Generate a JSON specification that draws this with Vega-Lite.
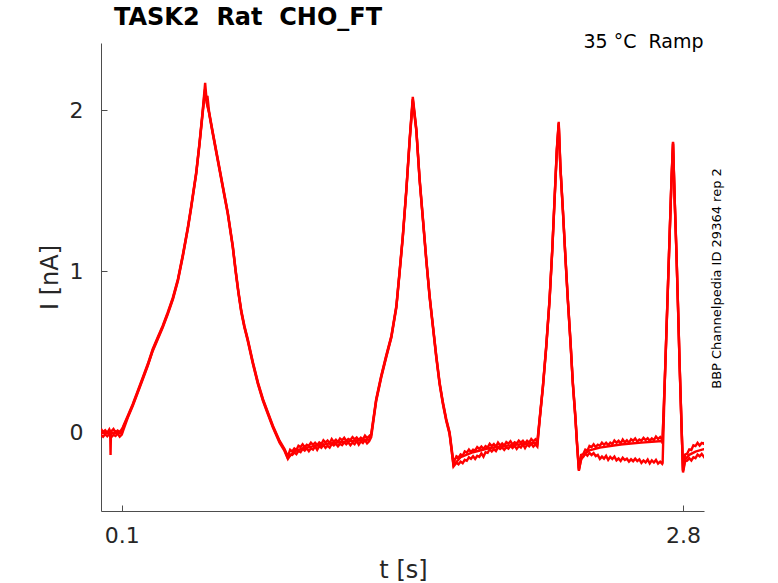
{
  "$schema": "https://vega.github.io/schema/vega-lite/v6.json",
  "autosize": "none",
  "width": 603,
  "height": 468,
  "padding": {"left": 101, "top": 43, "right": 74, "bottom": 72},
  "background": "white",
  "title": {
    "text": "TASK2\u00a0 Rat\u00a0 CHO_FT",
    "anchor": "start",
    "frame": "group",
    "dx": 13,
    "offset": 2,
    "font": "DejaVu Sans",
    "fontSize": 24,
    "fontWeight": "bold",
    "color": "black"
  },
  "data": {
    "values": [
      {"rep": "a", "t": 0, "i": 0.021}, {"rep": "a", "t": 0.01, "i": 0.001}, {"rep": "a", "t": 0.02, "i": 0.013}, {"rep": "a", "t": 0.03, "i": -0.003}, {"rep": "a", "t": 0.04, "i": 0.018}, {"rep": "a", "t": 0.044, "i": 0.006}, {"rep": "a", "t": 0.046, "i": -0.141}, {"rep": "a", "t": 0.048, "i": 0.002}, {"rep": "a", "t": 0.05, "i": 0.006}, {"rep": "a", "t": 0.06, "i": 0.02}, {"rep": "a", "t": 0.07, "i": -0.001}, {"rep": "a", "t": 0.08, "i": 0.011}, {"rep": "a", "t": 0.09, "i": 0.002}, {"rep": "a", "t": 0.1, "i": 0.019},
      {"rep": "a", "t": 0.105, "i": 0.031}, {"rep": "a", "t": 0.129, "i": 0.103}, {"rep": "a", "t": 0.153, "i": 0.176}, {"rep": "a", "t": 0.177, "i": 0.258}, {"rep": "a", "t": 0.201, "i": 0.341}, {"rep": "a", "t": 0.225, "i": 0.424}, {"rep": "a", "t": 0.249, "i": 0.517}, {"rep": "a", "t": 0.273, "i": 0.59}, {"rep": "a", "t": 0.297, "i": 0.662}, {"rep": "a", "t": 0.321, "i": 0.745}, {"rep": "a", "t": 0.346, "i": 0.838}, {"rep": "a", "t": 0.37, "i": 0.952}, {"rep": "a", "t": 0.394, "i": 1.106}, {"rep": "a", "t": 0.418, "i": 1.276}, {"rep": "a", "t": 0.434, "i": 1.406}, {"rep": "a", "t": 0.458, "i": 1.615}, {"rep": "a", "t": 0.474, "i": 1.801}, {"rep": "a", "t": 0.49, "i": 2.008}, {"rep": "a", "t": 0.501, "i": 2.171}, {"rep": "a", "t": 0.509, "i": 2.049}, {"rep": "a", "t": 0.522, "i": 1.977}, {"rep": "a", "t": 0.538, "i": 1.863}, {"rep": "a", "t": 0.562, "i": 1.697}, {"rep": "a", "t": 0.586, "i": 1.531}, {"rep": "a", "t": 0.61, "i": 1.366}, {"rep": "a", "t": 0.634, "i": 1.159}, {"rep": "a", "t": 0.648, "i": 1.006}, {"rep": "a", "t": 0.661, "i": 0.876}, {"rep": "a", "t": 0.675, "i": 0.756}, {"rep": "a", "t": 0.69, "i": 0.661}, {"rep": "a", "t": 0.706, "i": 0.579}, {"rep": "a", "t": 0.731, "i": 0.435}, {"rep": "a", "t": 0.755, "i": 0.31}, {"rep": "a", "t": 0.779, "i": 0.207}, {"rep": "a", "t": 0.803, "i": 0.124}, {"rep": "a", "t": 0.827, "i": 0.041}, {"rep": "a", "t": 0.859, "i": -0.052}, {"rep": "a", "t": 0.883, "i": -0.104}, {"rep": "a", "t": 0.899, "i": -0.15},
      {"rep": "a", "t": 0.91, "i": -0.109}, {"rep": "a", "t": 0.92, "i": -0.119}, {"rep": "a", "t": 0.93, "i": -0.1}, {"rep": "a", "t": 0.94, "i": -0.11}, {"rep": "a", "t": 0.95, "i": -0.084}, {"rep": "a", "t": 0.96, "i": -0.092}, {"rep": "a", "t": 0.97, "i": -0.075}, {"rep": "a", "t": 0.98, "i": -0.093}, {"rep": "a", "t": 0.99, "i": -0.078}, {"rep": "a", "t": 1.0, "i": -0.084}, {"rep": "a", "t": 1.01, "i": -0.065}, {"rep": "a", "t": 1.02, "i": -0.078}, {"rep": "a", "t": 1.03, "i": -0.065}, {"rep": "a", "t": 1.04, "i": -0.08}, {"rep": "a", "t": 1.05, "i": -0.063}, {"rep": "a", "t": 1.06, "i": -0.073}, {"rep": "a", "t": 1.07, "i": -0.05}, {"rep": "a", "t": 1.08, "i": -0.064}, {"rep": "a", "t": 1.09, "i": -0.051}, {"rep": "a", "t": 1.1, "i": -0.068}, {"rep": "a", "t": 1.11, "i": -0.042}, {"rep": "a", "t": 1.12, "i": -0.06}, {"rep": "a", "t": 1.13, "i": -0.046}, {"rep": "a", "t": 1.14, "i": -0.061}, {"rep": "a", "t": 1.15, "i": -0.039}, {"rep": "a", "t": 1.16, "i": -0.049}, {"rep": "a", "t": 1.17, "i": -0.034}, {"rep": "a", "t": 1.18, "i": -0.054}, {"rep": "a", "t": 1.19, "i": -0.041}, {"rep": "a", "t": 1.2, "i": -0.048}, {"rep": "a", "t": 1.21, "i": -0.03}, {"rep": "a", "t": 1.22, "i": -0.044}, {"rep": "a", "t": 1.23, "i": -0.032}, {"rep": "a", "t": 1.24, "i": -0.048}, {"rep": "a", "t": 1.25, "i": -0.033}, {"rep": "a", "t": 1.26, "i": -0.044}, {"rep": "a", "t": 1.27, "i": -0.021}, {"rep": "a", "t": 1.28, "i": -0.036}, {"rep": "a", "t": 1.29, "i": -0.024},
      {"rep": "a", "t": 1.3, "i": -0.011}, {"rep": "a", "t": 1.324, "i": 0.207}, {"rep": "a", "t": 1.348, "i": 0.351}, {"rep": "a", "t": 1.372, "i": 0.476}, {"rep": "a", "t": 1.397, "i": 0.6}, {"rep": "a", "t": 1.421, "i": 0.786}, {"rep": "a", "t": 1.436, "i": 0.995}, {"rep": "a", "t": 1.452, "i": 1.221}, {"rep": "a", "t": 1.469, "i": 1.511}, {"rep": "a", "t": 1.485, "i": 1.822}, {"rep": "a", "t": 1.5, "i": 2.084}, {"rep": "a", "t": 1.517, "i": 1.884}, {"rep": "a", "t": 1.533, "i": 1.573}, {"rep": "a", "t": 1.549, "i": 1.325}, {"rep": "a", "t": 1.565, "i": 1.076}, {"rep": "a", "t": 1.581, "i": 0.848}, {"rep": "a", "t": 1.597, "i": 0.662}, {"rep": "a", "t": 1.613, "i": 0.476}, {"rep": "a", "t": 1.629, "i": 0.31}, {"rep": "a", "t": 1.645, "i": 0.186}, {"rep": "a", "t": 1.661, "i": 0.082}, {"rep": "a", "t": 1.677, "i": 0.0}, {"rep": "a", "t": 1.696, "i": -0.19},
      {"rep": "a", "t": 1.71, "i": -0.149}, {"rep": "a", "t": 1.72, "i": -0.157}, {"rep": "a", "t": 1.73, "i": -0.137}, {"rep": "a", "t": 1.74, "i": -0.146}, {"rep": "a", "t": 1.75, "i": -0.119}, {"rep": "a", "t": 1.76, "i": -0.126}, {"rep": "a", "t": 1.77, "i": -0.107}, {"rep": "a", "t": 1.78, "i": -0.124}, {"rep": "a", "t": 1.79, "i": -0.108}, {"rep": "a", "t": 1.8, "i": -0.113}, {"rep": "a", "t": 1.81, "i": -0.092}, {"rep": "a", "t": 1.82, "i": -0.103}, {"rep": "a", "t": 1.83, "i": -0.089}, {"rep": "a", "t": 1.84, "i": -0.103}, {"rep": "a", "t": 1.85, "i": -0.086}, {"rep": "a", "t": 1.86, "i": -0.095}, {"rep": "a", "t": 1.87, "i": -0.072}, {"rep": "a", "t": 1.88, "i": -0.086}, {"rep": "a", "t": 1.89, "i": -0.073}, {"rep": "a", "t": 1.9, "i": -0.09}, {"rep": "a", "t": 1.91, "i": -0.064}, {"rep": "a", "t": 1.92, "i": -0.082}, {"rep": "a", "t": 1.93, "i": -0.069}, {"rep": "a", "t": 1.94, "i": -0.083}, {"rep": "a", "t": 1.95, "i": -0.061}, {"rep": "a", "t": 1.96, "i": -0.071}, {"rep": "a", "t": 1.97, "i": -0.056}, {"rep": "a", "t": 1.98, "i": -0.076}, {"rep": "a", "t": 1.99, "i": -0.062}, {"rep": "a", "t": 2.0, "i": -0.07}, {"rep": "a", "t": 2.01, "i": -0.052}, {"rep": "a", "t": 2.02, "i": -0.065}, {"rep": "a", "t": 2.03, "i": -0.053}, {"rep": "a", "t": 2.04, "i": -0.069}, {"rep": "a", "t": 2.05, "i": -0.053}, {"rep": "a", "t": 2.06, "i": -0.064}, {"rep": "a", "t": 2.07, "i": -0.042}, {"rep": "a", "t": 2.08, "i": -0.056}, {"rep": "a", "t": 2.09, "i": -0.044},
      {"rep": "a", "t": 2.099, "i": -0.06}, {"rep": "a", "t": 2.11, "i": 0.082}, {"rep": "a", "t": 2.126, "i": 0.289}, {"rep": "a", "t": 2.142, "i": 0.538}, {"rep": "a", "t": 2.158, "i": 0.828}, {"rep": "a", "t": 2.171, "i": 1.138}, {"rep": "a", "t": 2.182, "i": 1.449}, {"rep": "a", "t": 2.193, "i": 1.759}, {"rep": "a", "t": 2.202, "i": 1.929}, {"rep": "a", "t": 2.21, "i": 1.656}, {"rep": "a", "t": 2.222, "i": 1.387}, {"rep": "a", "t": 2.235, "i": 1.076}, {"rep": "a", "t": 2.246, "i": 0.828}, {"rep": "a", "t": 2.259, "i": 0.56}, {"rep": "a", "t": 2.27, "i": 0.31}, {"rep": "a", "t": 2.282, "i": 0.103}, {"rep": "a", "t": 2.29, "i": -0.062}, {"rep": "a", "t": 2.299, "i": -0.225},
      {"rep": "a", "t": 2.31, "i": -0.14}, {"rep": "a", "t": 2.32, "i": -0.135}, {"rep": "a", "t": 2.33, "i": -0.108}, {"rep": "a", "t": 2.34, "i": -0.114}, {"rep": "a", "t": 2.35, "i": -0.085}, {"rep": "a", "t": 2.36, "i": -0.092}, {"rep": "a", "t": 2.37, "i": -0.074}, {"rep": "a", "t": 2.38, "i": -0.092}, {"rep": "a", "t": 2.39, "i": -0.077}, {"rep": "a", "t": 2.4, "i": -0.084}, {"rep": "a", "t": 2.41, "i": -0.065}, {"rep": "a", "t": 2.42, "i": -0.078}, {"rep": "a", "t": 2.43, "i": -0.065}, {"rep": "a", "t": 2.44, "i": -0.08}, {"rep": "a", "t": 2.45, "i": -0.064}, {"rep": "a", "t": 2.46, "i": -0.074}, {"rep": "a", "t": 2.47, "i": -0.051}, {"rep": "a", "t": 2.48, "i": -0.065}, {"rep": "a", "t": 2.49, "i": -0.053}, {"rep": "a", "t": 2.5, "i": -0.07}, {"rep": "a", "t": 2.51, "i": -0.045}, {"rep": "a", "t": 2.52, "i": -0.063}, {"rep": "a", "t": 2.53, "i": -0.05}, {"rep": "a", "t": 2.54, "i": -0.065}, {"rep": "a", "t": 2.55, "i": -0.043}, {"rep": "a", "t": 2.56, "i": -0.053}, {"rep": "a", "t": 2.57, "i": -0.038}, {"rep": "a", "t": 2.58, "i": -0.058}, {"rep": "a", "t": 2.59, "i": -0.045}, {"rep": "a", "t": 2.6, "i": -0.053}, {"rep": "a", "t": 2.61, "i": -0.035}, {"rep": "a", "t": 2.62, "i": -0.049}, {"rep": "a", "t": 2.63, "i": -0.037}, {"rep": "a", "t": 2.64, "i": -0.053}, {"rep": "a", "t": 2.65, "i": -0.038}, {"rep": "a", "t": 2.66, "i": -0.049}, {"rep": "a", "t": 2.67, "i": -0.027}, {"rep": "a", "t": 2.68, "i": -0.042}, {"rep": "a", "t": 2.69, "i": -0.03}, {"rep": "a", "t": 2.7, "i": -0.048},
      {"rep": "a", "t": 2.701, "i": -0.06}, {"rep": "a", "t": 2.712, "i": 0.31}, {"rep": "a", "t": 2.72, "i": 0.621}, {"rep": "a", "t": 2.728, "i": 0.931}, {"rep": "a", "t": 2.736, "i": 1.242}, {"rep": "a", "t": 2.744, "i": 1.553}, {"rep": "a", "t": 2.752, "i": 1.805}, {"rep": "a", "t": 2.76, "i": 1.449}, {"rep": "a", "t": 2.768, "i": 1.138}, {"rep": "a", "t": 2.776, "i": 0.786}, {"rep": "a", "t": 2.784, "i": 0.413}, {"rep": "a", "t": 2.792, "i": 0.083}, {"rep": "a", "t": 2.8, "i": -0.235},
      {"rep": "a", "t": 2.81, "i": -0.138}, {"rep": "a", "t": 2.82, "i": -0.133}, {"rep": "a", "t": 2.83, "i": -0.106}, {"rep": "a", "t": 2.84, "i": -0.11}, {"rep": "a", "t": 2.85, "i": -0.081}, {"rep": "a", "t": 2.86, "i": -0.086}, {"rep": "a", "t": 2.87, "i": -0.066}, {"rep": "a", "t": 2.88, "i": -0.082}, {"rep": "a", "t": 2.89, "i": -0.066}, {"rep": "a", "t": 2.9, "i": -0.072}, {"rep": "a", "t": 2.901, "i": -0.06},

      {"rep": "b", "t": 0, "i": -0.016}, {"rep": "b", "t": 0.01, "i": -0.028}, {"rep": "b", "t": 0.02, "i": -0.012}, {"rep": "b", "t": 0.03, "i": -0.025}, {"rep": "b", "t": 0.04, "i": -0.01}, {"rep": "b", "t": 0.05, "i": -0.03}, {"rep": "b", "t": 0.06, "i": -0.015}, {"rep": "b", "t": 0.07, "i": -0.023}, {"rep": "b", "t": 0.08, "i": -0.008}, {"rep": "b", "t": 0.09, "i": -0.027}, {"rep": "b", "t": 0.1, "i": -0.014},
      {"rep": "b", "t": 0.107, "i": 0.012}, {"rep": "b", "t": 0.129, "i": 0.091}, {"rep": "b", "t": 0.153, "i": 0.164}, {"rep": "b", "t": 0.177, "i": 0.246}, {"rep": "b", "t": 0.201, "i": 0.329}, {"rep": "b", "t": 0.225, "i": 0.412}, {"rep": "b", "t": 0.249, "i": 0.505}, {"rep": "b", "t": 0.273, "i": 0.578}, {"rep": "b", "t": 0.297, "i": 0.65}, {"rep": "b", "t": 0.321, "i": 0.733}, {"rep": "b", "t": 0.346, "i": 0.826}, {"rep": "b", "t": 0.37, "i": 0.94}, {"rep": "b", "t": 0.394, "i": 1.094}, {"rep": "b", "t": 0.418, "i": 1.264}, {"rep": "b", "t": 0.434, "i": 1.394}, {"rep": "b", "t": 0.458, "i": 1.603}, {"rep": "b", "t": 0.474, "i": 1.789}, {"rep": "b", "t": 0.49, "i": 1.99}, {"rep": "b", "t": 0.499, "i": 2.1}, {"rep": "b", "t": 0.505, "i": 2.06}, {"rep": "b", "t": 0.512, "i": 2.09}, {"rep": "b", "t": 0.522, "i": 1.965}, {"rep": "b", "t": 0.538, "i": 1.851}, {"rep": "b", "t": 0.562, "i": 1.685}, {"rep": "b", "t": 0.586, "i": 1.519}, {"rep": "b", "t": 0.61, "i": 1.354}, {"rep": "b", "t": 0.634, "i": 1.147}, {"rep": "b", "t": 0.648, "i": 0.994}, {"rep": "b", "t": 0.661, "i": 0.864}, {"rep": "b", "t": 0.675, "i": 0.744}, {"rep": "b", "t": 0.69, "i": 0.649}, {"rep": "b", "t": 0.706, "i": 0.567}, {"rep": "b", "t": 0.731, "i": 0.423}, {"rep": "b", "t": 0.755, "i": 0.298}, {"rep": "b", "t": 0.779, "i": 0.195}, {"rep": "b", "t": 0.803, "i": 0.112}, {"rep": "b", "t": 0.827, "i": 0.029}, {"rep": "b", "t": 0.859, "i": -0.064}, {"rep": "b", "t": 0.883, "i": -0.116}, {"rep": "b", "t": 0.899, "i": -0.165},
      {"rep": "b", "t": 0.91, "i": -0.139}, {"rep": "b", "t": 0.92, "i": -0.141}, {"rep": "b", "t": 0.93, "i": -0.125}, {"rep": "b", "t": 0.94, "i": -0.136}, {"rep": "b", "t": 0.95, "i": -0.116}, {"rep": "b", "t": 0.96, "i": -0.123}, {"rep": "b", "t": 0.97, "i": -0.103}, {"rep": "b", "t": 0.98, "i": -0.114}, {"rep": "b", "t": 0.99, "i": -0.099}, {"rep": "b", "t": 1.0, "i": -0.117}, {"rep": "b", "t": 1.01, "i": -0.099}, {"rep": "b", "t": 1.02, "i": -0.108}, {"rep": "b", "t": 1.03, "i": -0.087}, {"rep": "b", "t": 1.04, "i": -0.109}, {"rep": "b", "t": 1.05, "i": -0.086}, {"rep": "b", "t": 1.06, "i": -0.096}, {"rep": "b", "t": 1.07, "i": -0.078}, {"rep": "b", "t": 1.08, "i": -0.097}, {"rep": "b", "t": 1.09, "i": -0.083}, {"rep": "b", "t": 1.1, "i": -0.095}, {"rep": "b", "t": 1.11, "i": -0.072}, {"rep": "b", "t": 1.12, "i": -0.082}, {"rep": "b", "t": 1.13, "i": -0.071}, {"rep": "b", "t": 1.14, "i": -0.087}, {"rep": "b", "t": 1.15, "i": -0.071}, {"rep": "b", "t": 1.16, "i": -0.08}, {"rep": "b", "t": 1.17, "i": -0.062}, {"rep": "b", "t": 1.18, "i": -0.075}, {"rep": "b", "t": 1.19, "i": -0.062}, {"rep": "b", "t": 1.2, "i": -0.081}, {"rep": "b", "t": 1.21, "i": -0.064}, {"rep": "b", "t": 1.22, "i": -0.074}, {"rep": "b", "t": 1.23, "i": -0.054}, {"rep": "b", "t": 1.24, "i": -0.077}, {"rep": "b", "t": 1.25, "i": -0.056}, {"rep": "b", "t": 1.26, "i": -0.067}, {"rep": "b", "t": 1.27, "i": -0.049}, {"rep": "b", "t": 1.28, "i": -0.069}, {"rep": "b", "t": 1.29, "i": -0.056},
      {"rep": "b", "t": 1.3, "i": -0.03}, {"rep": "b", "t": 1.324, "i": 0.195}, {"rep": "b", "t": 1.348, "i": 0.339}, {"rep": "b", "t": 1.372, "i": 0.464}, {"rep": "b", "t": 1.397, "i": 0.588}, {"rep": "b", "t": 1.421, "i": 0.774}, {"rep": "b", "t": 1.436, "i": 0.983}, {"rep": "b", "t": 1.452, "i": 1.209}, {"rep": "b", "t": 1.469, "i": 1.499}, {"rep": "b", "t": 1.485, "i": 1.81}, {"rep": "b", "t": 1.5, "i": 2.06}, {"rep": "b", "t": 1.517, "i": 1.872}, {"rep": "b", "t": 1.533, "i": 1.561}, {"rep": "b", "t": 1.549, "i": 1.313}, {"rep": "b", "t": 1.565, "i": 1.064}, {"rep": "b", "t": 1.581, "i": 0.836}, {"rep": "b", "t": 1.597, "i": 0.65}, {"rep": "b", "t": 1.613, "i": 0.464}, {"rep": "b", "t": 1.629, "i": 0.298}, {"rep": "b", "t": 1.645, "i": 0.174}, {"rep": "b", "t": 1.661, "i": 0.07}, {"rep": "b", "t": 1.677, "i": -0.012}, {"rep": "b", "t": 1.696, "i": -0.212},
      {"rep": "b", "t": 1.71, "i": -0.189}, {"rep": "b", "t": 1.72, "i": -0.199}, {"rep": "b", "t": 1.73, "i": -0.182}, {"rep": "b", "t": 1.74, "i": -0.192}, {"rep": "b", "t": 1.75, "i": -0.171}, {"rep": "b", "t": 1.76, "i": -0.177}, {"rep": "b", "t": 1.77, "i": -0.155}, {"rep": "b", "t": 1.78, "i": -0.165}, {"rep": "b", "t": 1.79, "i": -0.149}, {"rep": "b", "t": 1.8, "i": -0.166}, {"rep": "b", "t": 1.81, "i": -0.146}, {"rep": "b", "t": 1.82, "i": -0.153}, {"rep": "b", "t": 1.83, "i": -0.131}, {"rep": "b", "t": 1.84, "i": -0.152}, {"rep": "b", "t": 1.85, "i": -0.124}, {"rep": "b", "t": 1.86, "i": -0.128}, {"rep": "b", "t": 1.87, "i": -0.105}, {"rep": "b", "t": 1.88, "i": -0.119}, {"rep": "b", "t": 1.89, "i": -0.105}, {"rep": "b", "t": 1.9, "i": -0.117}, {"rep": "b", "t": 1.91, "i": -0.094}, {"rep": "b", "t": 1.92, "i": -0.104}, {"rep": "b", "t": 1.93, "i": -0.094}, {"rep": "b", "t": 1.94, "i": -0.109}, {"rep": "b", "t": 1.95, "i": -0.093}, {"rep": "b", "t": 1.96, "i": -0.102}, {"rep": "b", "t": 1.97, "i": -0.084}, {"rep": "b", "t": 1.98, "i": -0.097}, {"rep": "b", "t": 1.99, "i": -0.083}, {"rep": "b", "t": 2.0, "i": -0.103}, {"rep": "b", "t": 2.01, "i": -0.086}, {"rep": "b", "t": 2.02, "i": -0.095}, {"rep": "b", "t": 2.03, "i": -0.075}, {"rep": "b", "t": 2.04, "i": -0.098}, {"rep": "b", "t": 2.05, "i": -0.076}, {"rep": "b", "t": 2.06, "i": -0.087}, {"rep": "b", "t": 2.07, "i": -0.07}, {"rep": "b", "t": 2.08, "i": -0.089}, {"rep": "b", "t": 2.09, "i": -0.076},
      {"rep": "b", "t": 2.099, "i": -0.089}, {"rep": "b", "t": 2.11, "i": 0.07}, {"rep": "b", "t": 2.126, "i": 0.277}, {"rep": "b", "t": 2.142, "i": 0.526}, {"rep": "b", "t": 2.158, "i": 0.816}, {"rep": "b", "t": 2.171, "i": 1.126}, {"rep": "b", "t": 2.182, "i": 1.437}, {"rep": "b", "t": 2.193, "i": 1.747}, {"rep": "b", "t": 2.202, "i": 1.91}, {"rep": "b", "t": 2.21, "i": 1.644}, {"rep": "b", "t": 2.222, "i": 1.375}, {"rep": "b", "t": 2.235, "i": 1.064}, {"rep": "b", "t": 2.246, "i": 0.816}, {"rep": "b", "t": 2.259, "i": 0.548}, {"rep": "b", "t": 2.27, "i": 0.298}, {"rep": "b", "t": 2.282, "i": 0.091}, {"rep": "b", "t": 2.29, "i": -0.074}, {"rep": "b", "t": 2.299, "i": -0.24},
      {"rep": "b", "t": 2.31, "i": -0.16}, {"rep": "b", "t": 2.32, "i": -0.152}, {"rep": "b", "t": 2.33, "i": -0.133}, {"rep": "b", "t": 2.34, "i": -0.145}, {"rep": "b", "t": 2.35, "i": -0.128}, {"rep": "b", "t": 2.36, "i": -0.141}, {"rep": "b", "t": 2.37, "i": -0.129}, {"rep": "b", "t": 2.38, "i": -0.148}, {"rep": "b", "t": 2.39, "i": -0.141}, {"rep": "b", "t": 2.4, "i": -0.165}, {"rep": "b", "t": 2.41, "i": -0.151}, {"rep": "b", "t": 2.42, "i": -0.164}, {"rep": "b", "t": 2.43, "i": -0.146}, {"rep": "b", "t": 2.44, "i": -0.172}, {"rep": "b", "t": 2.45, "i": -0.153}, {"rep": "b", "t": 2.46, "i": -0.166}, {"rep": "b", "t": 2.47, "i": -0.151}, {"rep": "b", "t": 2.48, "i": -0.174}, {"rep": "b", "t": 2.49, "i": -0.163}, {"rep": "b", "t": 2.5, "i": -0.178}, {"rep": "b", "t": 2.51, "i": -0.158}, {"rep": "b", "t": 2.52, "i": -0.172}, {"rep": "b", "t": 2.53, "i": -0.164}, {"rep": "b", "t": 2.54, "i": -0.182}, {"rep": "b", "t": 2.55, "i": -0.168}, {"rep": "b", "t": 2.56, "i": -0.18}, {"rep": "b", "t": 2.57, "i": -0.164}, {"rep": "b", "t": 2.58, "i": -0.179}, {"rep": "b", "t": 2.59, "i": -0.168}, {"rep": "b", "t": 2.6, "i": -0.19}, {"rep": "b", "t": 2.61, "i": -0.175}, {"rep": "b", "t": 2.62, "i": -0.187}, {"rep": "b", "t": 2.63, "i": -0.169}, {"rep": "b", "t": 2.64, "i": -0.194}, {"rep": "b", "t": 2.65, "i": -0.175}, {"rep": "b", "t": 2.66, "i": -0.188}, {"rep": "b", "t": 2.67, "i": -0.172}, {"rep": "b", "t": 2.68, "i": -0.194}, {"rep": "b", "t": 2.69, "i": -0.182}, {"rep": "b", "t": 2.7, "i": -0.196},
      {"rep": "b", "t": 2.702, "i": -0.19}, {"rep": "b", "t": 2.712, "i": 0.298}, {"rep": "b", "t": 2.72, "i": 0.609}, {"rep": "b", "t": 2.728, "i": 0.919}, {"rep": "b", "t": 2.736, "i": 1.23}, {"rep": "b", "t": 2.744, "i": 1.541}, {"rep": "b", "t": 2.752, "i": 1.79}, {"rep": "b", "t": 2.76, "i": 1.437}, {"rep": "b", "t": 2.768, "i": 1.126}, {"rep": "b", "t": 2.776, "i": 0.774}, {"rep": "b", "t": 2.784, "i": 0.401}, {"rep": "b", "t": 2.792, "i": 0.071}, {"rep": "b", "t": 2.8, "i": -0.25},
      {"rep": "b", "t": 2.81, "i": -0.18}, {"rep": "b", "t": 2.82, "i": -0.177}, {"rep": "b", "t": 2.83, "i": -0.161}, {"rep": "b", "t": 2.84, "i": -0.175}, {"rep": "b", "t": 2.85, "i": -0.155}, {"rep": "b", "t": 2.86, "i": -0.161}, {"rep": "b", "t": 2.87, "i": -0.139}, {"rep": "b", "t": 2.88, "i": -0.149}, {"rep": "b", "t": 2.89, "i": -0.134}, {"rep": "b", "t": 2.9, "i": -0.152}, {"rep": "b", "t": 2.901, "i": -0.145},

      {"rep": "c", "t": 0, "i": -0.005}, {"rep": "c", "t": 0.05, "i": -0.002}, {"rep": "c", "t": 0.1, "i": -0.006},
      {"rep": "c", "t": 0.105, "i": 0.025}, {"rep": "c", "t": 0.129, "i": 0.097}, {"rep": "c", "t": 0.153, "i": 0.17}, {"rep": "c", "t": 0.177, "i": 0.252}, {"rep": "c", "t": 0.201, "i": 0.335}, {"rep": "c", "t": 0.225, "i": 0.418}, {"rep": "c", "t": 0.249, "i": 0.511}, {"rep": "c", "t": 0.273, "i": 0.584}, {"rep": "c", "t": 0.297, "i": 0.656}, {"rep": "c", "t": 0.321, "i": 0.739}, {"rep": "c", "t": 0.346, "i": 0.832}, {"rep": "c", "t": 0.37, "i": 0.946}, {"rep": "c", "t": 0.394, "i": 1.1}, {"rep": "c", "t": 0.418, "i": 1.27}, {"rep": "c", "t": 0.434, "i": 1.4}, {"rep": "c", "t": 0.458, "i": 1.609}, {"rep": "c", "t": 0.474, "i": 1.795}, {"rep": "c", "t": 0.49, "i": 2.002}, {"rep": "c", "t": 0.5, "i": 2.13}, {"rep": "c", "t": 0.509, "i": 2.043}, {"rep": "c", "t": 0.522, "i": 1.971}, {"rep": "c", "t": 0.538, "i": 1.857}, {"rep": "c", "t": 0.562, "i": 1.691}, {"rep": "c", "t": 0.586, "i": 1.525}, {"rep": "c", "t": 0.61, "i": 1.36}, {"rep": "c", "t": 0.634, "i": 1.153}, {"rep": "c", "t": 0.648, "i": 1.0}, {"rep": "c", "t": 0.661, "i": 0.87}, {"rep": "c", "t": 0.675, "i": 0.75}, {"rep": "c", "t": 0.69, "i": 0.655}, {"rep": "c", "t": 0.706, "i": 0.573}, {"rep": "c", "t": 0.731, "i": 0.429}, {"rep": "c", "t": 0.755, "i": 0.304}, {"rep": "c", "t": 0.779, "i": 0.201}, {"rep": "c", "t": 0.803, "i": 0.118}, {"rep": "c", "t": 0.827, "i": 0.035}, {"rep": "c", "t": 0.859, "i": -0.058}, {"rep": "c", "t": 0.883, "i": -0.11}, {"rep": "c", "t": 0.899, "i": -0.161},
      {"rep": "c", "t": 0.93, "i": -0.118}, {"rep": "c", "t": 0.97, "i": -0.1}, {"rep": "c", "t": 1.05, "i": -0.08}, {"rep": "c", "t": 1.13, "i": -0.064}, {"rep": "c", "t": 1.2, "i": -0.055}, {"rep": "c", "t": 1.29, "i": -0.045},
      {"rep": "c", "t": 1.3, "i": -0.017}, {"rep": "c", "t": 1.324, "i": 0.201}, {"rep": "c", "t": 1.348, "i": 0.345}, {"rep": "c", "t": 1.372, "i": 0.47}, {"rep": "c", "t": 1.397, "i": 0.594}, {"rep": "c", "t": 1.421, "i": 0.78}, {"rep": "c", "t": 1.436, "i": 0.989}, {"rep": "c", "t": 1.452, "i": 1.215}, {"rep": "c", "t": 1.469, "i": 1.505}, {"rep": "c", "t": 1.485, "i": 1.816}, {"rep": "c", "t": 1.5, "i": 2.07}, {"rep": "c", "t": 1.517, "i": 1.878}, {"rep": "c", "t": 1.533, "i": 1.567}, {"rep": "c", "t": 1.549, "i": 1.319}, {"rep": "c", "t": 1.565, "i": 1.07}, {"rep": "c", "t": 1.581, "i": 0.842}, {"rep": "c", "t": 1.597, "i": 0.656}, {"rep": "c", "t": 1.613, "i": 0.47}, {"rep": "c", "t": 1.629, "i": 0.304}, {"rep": "c", "t": 1.645, "i": 0.18}, {"rep": "c", "t": 1.661, "i": 0.076}, {"rep": "c", "t": 1.677, "i": -0.006}, {"rep": "c", "t": 1.696, "i": -0.205},
      {"rep": "c", "t": 1.73, "i": -0.155}, {"rep": "c", "t": 1.79, "i": -0.124}, {"rep": "c", "t": 1.87, "i": -0.098}, {"rep": "c", "t": 1.95, "i": -0.084}, {"rep": "c", "t": 2.03, "i": -0.073}, {"rep": "c", "t": 2.09, "i": -0.066},
      {"rep": "c", "t": 2.099, "i": -0.075}, {"rep": "c", "t": 2.11, "i": 0.076}, {"rep": "c", "t": 2.126, "i": 0.283}, {"rep": "c", "t": 2.142, "i": 0.532}, {"rep": "c", "t": 2.158, "i": 0.822}, {"rep": "c", "t": 2.171, "i": 1.132}, {"rep": "c", "t": 2.182, "i": 1.443}, {"rep": "c", "t": 2.193, "i": 1.753}, {"rep": "c", "t": 2.202, "i": 1.92}, {"rep": "c", "t": 2.21, "i": 1.65}, {"rep": "c", "t": 2.222, "i": 1.381}, {"rep": "c", "t": 2.235, "i": 1.07}, {"rep": "c", "t": 2.246, "i": 0.822}, {"rep": "c", "t": 2.259, "i": 0.554}, {"rep": "c", "t": 2.27, "i": 0.304}, {"rep": "c", "t": 2.282, "i": 0.097}, {"rep": "c", "t": 2.29, "i": -0.068}, {"rep": "c", "t": 2.299, "i": -0.234},
      {"rep": "c", "t": 2.31, "i": -0.17}, {"rep": "c", "t": 2.33, "i": -0.13}, {"rep": "c", "t": 2.35, "i": -0.112}, {"rep": "c", "t": 2.4, "i": -0.095}, {"rep": "c", "t": 2.45, "i": -0.085}, {"rep": "c", "t": 2.5, "i": -0.076}, {"rep": "c", "t": 2.55, "i": -0.07}, {"rep": "c", "t": 2.6, "i": -0.064}, {"rep": "c", "t": 2.65, "i": -0.059}, {"rep": "c", "t": 2.7, "i": -0.054},
      {"rep": "c", "t": 2.701, "i": -0.07}, {"rep": "c", "t": 2.712, "i": 0.304}, {"rep": "c", "t": 2.72, "i": 0.615}, {"rep": "c", "t": 2.728, "i": 0.925}, {"rep": "c", "t": 2.736, "i": 1.236}, {"rep": "c", "t": 2.744, "i": 1.547}, {"rep": "c", "t": 2.752, "i": 1.8}, {"rep": "c", "t": 2.76, "i": 1.443}, {"rep": "c", "t": 2.768, "i": 1.132}, {"rep": "c", "t": 2.776, "i": 0.78}, {"rep": "c", "t": 2.784, "i": 0.407}, {"rep": "c", "t": 2.792, "i": 0.077}, {"rep": "c", "t": 2.8, "i": -0.24},
      {"rep": "c", "t": 2.81, "i": -0.17}, {"rep": "c", "t": 2.83, "i": -0.14}, {"rep": "c", "t": 2.86, "i": -0.12}, {"rep": "c", "t": 2.9, "i": -0.105}, {"rep": "c", "t": 2.901, "i": -0.105}
    ]
  },
  "layer": [
    {
      "transform": [{"filter": "datum.rep !== 'b'"}],
      "mark": {"type": "line", "color": "#ff0000", "strokeWidth": 2.4, "clip": true},
      "encoding": {
        "detail": {"field": "rep"},
        "x": {
          "field": "t",
          "type": "quantitative",
          "scale": {"domain": [0, 2.901], "nice": false, "zero": false},
          "axis": {
            "values": [0.1, 2.8],
            "format": ".1f",
            "title": "t [s]",
            "grid": false,
            "tickSize": -6,
            "labelPadding": 20,
            "labelFontSize": 22,
            "labelColor": "#262626",
            "labelFont": "DejaVu Sans",
            "titleFont": "DejaVu Sans",
            "titleFontSize": 24,
            "titleFontWeight": "normal",
            "titleColor": "#262626",
            "titleX": 302,
            "titleY": 66,
            "titleBaseline": "alphabetic",
            "domainColor": "#4d4d4d",
            "tickColor": "#4d4d4d"
          }
        },
        "y": {
          "field": "i",
          "type": "quantitative",
          "scale": {"domain": [-0.489, 2.418], "nice": false, "zero": false},
          "axis": {
            "values": [0, 1, 2],
            "format": "d",
            "title": "I [nA]",
            "grid": false,
            "tickSize": -6,
            "labelPadding": 24,
            "labelFontSize": 22,
            "labelColor": "#262626",
            "labelFont": "DejaVu Sans",
            "titleFont": "DejaVu Sans",
            "titleFontSize": 24,
            "titleFontWeight": "normal",
            "titleColor": "#262626",
            "titleX": -51,
            "titleY": 234,
            "titleAngle": -90,
            "titleBaseline": "middle",
            "titleAlign": "center",
            "domainColor": "#4d4d4d",
            "tickColor": "#4d4d4d"
          }
        }
      }
    },
    {
      "transform": [{"filter": "datum.rep === 'b'"}],
      "mark": {"type": "line", "color": "#ff0000", "strokeWidth": 2.4, "clip": true},
      "encoding": {
        "x": {
          "field": "t",
          "type": "quantitative",
          "scale": {"domain": [0, 2.901], "nice": false, "zero": false},
          "axis": {
            "orient": "top",
            "title": "35 °C\u00a0 Ramp",
            "labels": false,
            "ticks": false,
            "domain": false,
            "grid": false,
            "titleFont": "DejaVu Sans",
            "titleFontSize": 19,
            "titleFontWeight": "normal",
            "titleColor": "black",
            "titleX": 602,
            "titleY": 4,
            "titleAlign": "right",
            "titleBaseline": "alphabetic"
          }
        },
        "y": {
          "field": "i",
          "type": "quantitative",
          "scale": {"domain": [-0.489, 2.418], "nice": false, "zero": false},
          "axis": {
            "orient": "right",
            "title": "BBP Channelpedia ID 29364 rep 2",
            "labels": false,
            "ticks": false,
            "domain": false,
            "grid": false,
            "titleFont": "DejaVu Sans",
            "titleFontSize": 13,
            "titleFontWeight": "normal",
            "titleColor": "black",
            "titleX": 12,
            "titleY": 235,
            "titleAngle": -90,
            "titleAlign": "center",
            "titleBaseline": "middle"
          }
        }
      }
    }
  ],
  "resolve": {"axis": {"x": "independent", "y": "independent"}},
  "config": {"view": {"stroke": null}}
}
